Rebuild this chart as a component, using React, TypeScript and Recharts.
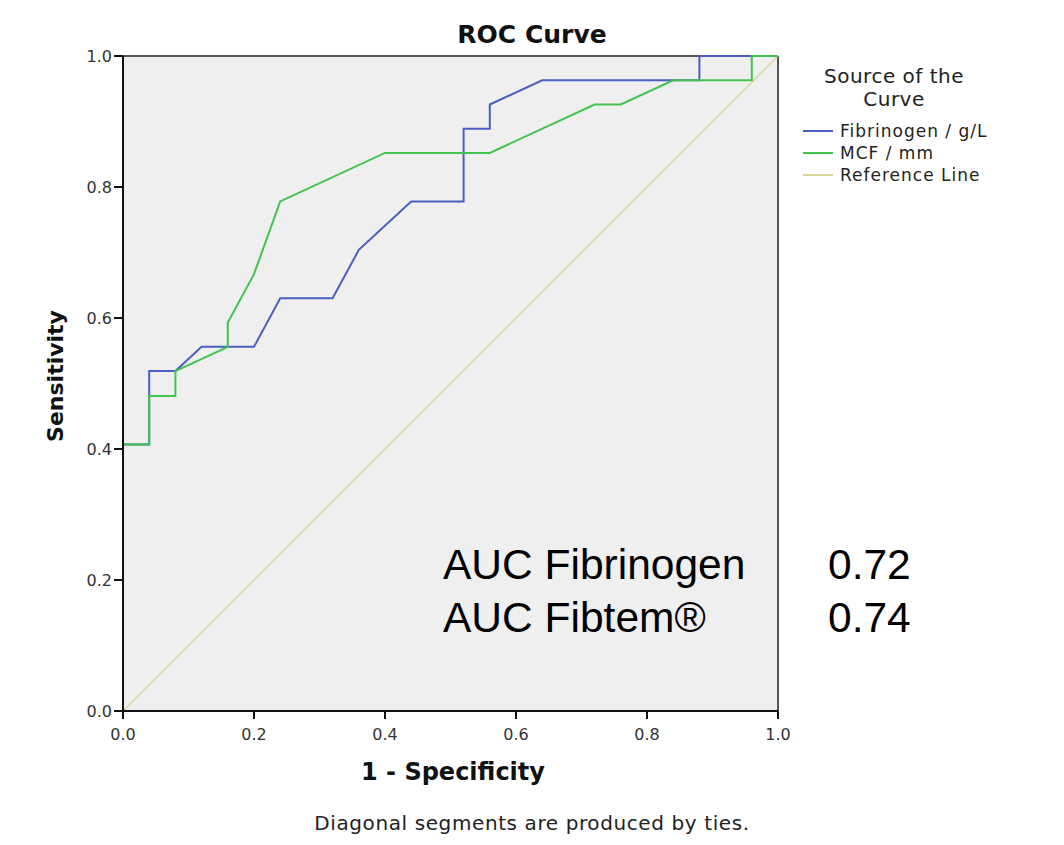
import React from 'react';
import { LineChart, Line, XAxis, YAxis, CartesianGrid, ReferenceLine } from 'recharts';

// ROC points (x = 1 - specificity, y = sensitivity)
const fibrinogenX = [0, 0, 0.04, 0.04, 0.08, 0.12, 0.2, 0.24, 0.32, 0.36, 0.44, 0.52, 0.52, 0.56, 0.56, 0.64, 0.88, 0.88, 1];
const fibrinogenY = [0, 0.407, 0.407, 0.519, 0.519, 0.556, 0.556, 0.63, 0.63, 0.704, 0.778, 0.778, 0.889, 0.889, 0.926, 0.963, 0.963, 1, 1];

const mcfX = [0, 0, 0.04, 0.04, 0.08, 0.08, 0.16, 0.16, 0.2, 0.24, 0.4, 0.56, 0.72, 0.76, 0.84, 0.96, 0.96, 1];
const mcfY = [0, 0.407, 0.407, 0.481, 0.481, 0.519, 0.556, 0.593, 0.667, 0.778, 0.852, 0.852, 0.926, 0.926, 0.963, 0.963, 1, 1];

const refX = [0, 1];
const refY = [0, 1];

const ticks = [0, 0.2, 0.4, 0.6, 0.8, 1];

const aucLabels = ['AUC Fibrinogen', 'AUC Fibtem®'];
const aucValues = ['0.72', '0.74'];

const legendItems = [
  { name: 'Fibrinogen / g/L', color: '#4a5fc1' },
  { name: 'MCF / mm', color: '#42c24f' },
  { name: 'Reference Line', color: '#d9d6a0' },
];

const toPoints = (xs: number[], ys: number[]) => xs.map((x, i) => ({ x, y: ys[i] }));

const spss = '"DejaVu Sans", sans-serif';
const tickStyle = { fill: '#333', fontSize: 16, fontFamily: 'DejaVu Sans' };

export default function App() {
  const fib = toPoints(fibrinogenX, fibrinogenY);
  const mcf = toPoints(mcfX, mcfY);
  const ref = toPoints(refX, refY);

  return (
    <div style={{ position: 'relative', width: 1048, height: 829, fontFamily: spss, color: '#111' }}>
      <LineChart width={1048} height={829} margin={{ top: 48, right: 278, bottom: 96, left: 0 }}>
        <CartesianGrid fill="#efefef" stroke="none" horizontal={false} vertical={false} />
        <XAxis
          type="number"
          dataKey="x"
          domain={[0, 1]}
          ticks={ticks}
          tickFormatter={(v: number) => v.toFixed(1)}
          height={30}
          tickSize={8}
          tickMargin={10}
          stroke="#111"
          strokeWidth={2}
          tick={tickStyle}
        />
        <YAxis
          type="number"
          dataKey="y"
          domain={[0, 1]}
          ticks={ticks}
          tickFormatter={(v: number) => v.toFixed(1)}
          width={115}
          tickSize={9}
          tickMargin={2}
          stroke="#111"
          strokeWidth={2}
          tick={tickStyle}
        />
        <ReferenceLine y={1} stroke="#555" strokeWidth={2} />
        <ReferenceLine x={1} stroke="#555" strokeWidth={2} />
        <Line data={ref} dataKey="y" stroke="#d9d6a0" strokeWidth={1.5} dot={false} isAnimationActive={false} />
        <Line data={fib} dataKey="y" stroke="#4a5fc1" strokeWidth={2} dot={false} isAnimationActive={false} />
        <Line data={mcf} dataKey="y" stroke="#42c24f" strokeWidth={2} dot={false} isAnimationActive={false} />
      </LineChart>

      <div style={{ position: 'absolute', left: 524, top: 26, transform: 'translate(-50%, -50%)', fontSize: 25, fontWeight: 'bold', whiteSpace: 'nowrap' }}>
        ROC Curve
      </div>
      <div style={{ position: 'absolute', left: 47, top: 368, transform: 'translate(-50%, -50%) rotate(-90deg)', fontSize: 22, fontWeight: 'bold', whiteSpace: 'nowrap' }}>
        Sensitivity
      </div>
      <div style={{ position: 'absolute', left: 445, top: 764, transform: 'translate(-50%, -50%)', fontSize: 24, fontWeight: 'bold', whiteSpace: 'nowrap' }}>
        1 - Specificity
      </div>
      <div style={{ position: 'absolute', left: 524, top: 815, transform: 'translate(-50%, -50%)', fontSize: 20, letterSpacing: 0.6, color: '#222', whiteSpace: 'nowrap' }}>
        Diagonal segments are produced by ties.
      </div>

      <div style={{ position: 'absolute', left: 886, top: 80, transform: 'translate(-50%, -50%)', fontSize: 20, letterSpacing: 0.5, textAlign: 'center', lineHeight: '23px', color: '#222', whiteSpace: 'nowrap' }}>
        Source of the
        <br />
        Curve
      </div>
      {legendItems.map((it, i) => (
        <div key={it.name} style={{ position: 'absolute', left: 795, top: 112 + i * 22, height: 22, display: 'flex', alignItems: 'center', fontSize: 17, letterSpacing: 1, color: '#222', whiteSpace: 'nowrap' }}>
          <span style={{ display: 'inline-block', width: 30, height: 0, borderTop: `2px solid ${it.color}`, marginRight: 7 }} />
          {it.name}
        </div>
      ))}

      {aucLabels.map((label, i) => (
        <React.Fragment key={label}>
          <div style={{ position: 'absolute', left: 435, top: 536 + i * 53, fontSize: 42.5, lineHeight: 1, fontFamily: '"Liberation Sans", Arial, sans-serif', color: '#000', whiteSpace: 'nowrap' }}>
            {label}
          </div>
          <div style={{ position: 'absolute', left: 820, top: 536 + i * 53, fontSize: 42.5, lineHeight: 1, fontFamily: '"Liberation Sans", Arial, sans-serif', color: '#000', whiteSpace: 'nowrap' }}>
            {aucValues[i]}
          </div>
        </React.Fragment>
      ))}
    </div>
  );
}
